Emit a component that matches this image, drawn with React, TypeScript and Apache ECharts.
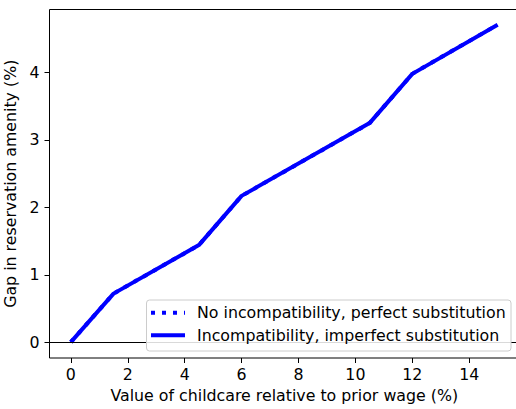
import React, { useEffect, useRef } from "react";
import * as echarts from "echarts";

const childcareValue = [0, 1.5, 4.5, 6, 10.5, 12, 15];
const gapImperfect = [0, 0.72, 1.44, 2.17, 3.25, 3.98, 4.71];
const gapPerfect = [0, 0.72, 1.44, 2.17, 3.25, 3.98, 4.71];
const xTicks = [0, 2, 4, 6, 8, 10, 12, 14];
const yTicks = [0, 1, 2, 3, 4];
const seriesNames = [
  "No incompatibility, perfect substitution",
  "Incompatibility, imperfect substitution",
];

const FONT = "DejaVu Sans";
const FS = 15.8;
const BLUE = "#0000ff";

export default function App() {
  const ref = useRef<HTMLDivElement>(null);
  useEffect(() => {
    if (!ref.current) return;
    const chart = echarts.init(ref.current, undefined, { renderer: "svg" });
    const pts = (ys: number[]) => childcareValue.map((x, i) => [x, ys[i]]);
    const legendRows = [312.7, 335.3];
    chart.setOption({
      animation: false,
      backgroundColor: "#ffffff",
      textStyle: { fontFamily: FONT },
      grid: {
        left: 49.5,
        top: 9.5,
        right: -3,
        bottom: 51,
        outerBoundsMode: "none",
        containLabel: false,
        show: true,
        borderColor: "#000",
        borderWidth: 1,
        backgroundColor: "transparent",
      },
      xAxis: {
        type: "value",
        min: -0.75,
        max: 15.75,
        name: "Value of childcare relative to prior wage (%)",
        nameLocation: "middle",
        nameGap: 29,
        nameTextStyle: { fontSize: FS, color: "#000", fontFamily: FONT },
        axisLine: { show: false, onZero: false },
        splitLine: { show: false },
        axisTick: {
          show: true,
          length: 5,
          lineStyle: { color: "#000" },
          customValues: xTicks,
        },
        axisLabel: {
          fontSize: FS,
          color: "#000",
          margin: 8,
          fontFamily: FONT,
          customValues: xTicks,
        },
      },
      yAxis: {
        type: "value",
        min: -0.235,
        max: 4.935,
        name: "Gap in reservation amenity (%)",
        nameLocation: "middle",
        nameGap: 22,
        nameRotate: 90,
        nameTextStyle: { fontSize: FS, color: "#000", fontFamily: FONT },
        axisLine: { show: false, onZero: false },
        splitLine: { show: false },
        axisTick: {
          show: true,
          length: 5,
          lineStyle: { color: "#000" },
          customValues: yTicks,
        },
        axisLabel: {
          fontSize: FS,
          color: "#000",
          margin: 10,
          fontFamily: FONT,
          customValues: yTicks,
        },
      },
      graphic: [
        {
          type: "rect",
          shape: { x: 146.5, y: 300, width: 364.5, height: 51, r: 3 },
          style: { fill: "rgba(255,255,255,0.85)", stroke: "#cccccc", lineWidth: 1 },
          z: 100,
        },
        {
          type: "line",
          shape: { x1: 151, y1: legendRows[0], x2: 185, y2: legendRows[0] },
          style: { stroke: BLUE, lineWidth: 4, lineDash: [4, 7] },
          z: 101,
        },
        {
          type: "line",
          shape: { x1: 151, y1: legendRows[1], x2: 185, y2: legendRows[1] },
          style: { stroke: BLUE, lineWidth: 4 },
          z: 101,
        },
        {
          type: "text",
          x: 197,
          y: legendRows[0],
          style: {
            text: seriesNames[0],
            fontSize: FS,
            fontFamily: FONT,
            fill: "#000",
            verticalAlign: "middle",
          },
          z: 101,
        },
        {
          type: "text",
          x: 197,
          y: legendRows[1],
          style: {
            text: seriesNames[1],
            fontSize: FS,
            fontFamily: FONT,
            fill: "#000",
            verticalAlign: "middle",
          },
          z: 101,
        },
      ],
      series: [
        {
          name: seriesNames[0],
          type: "line",
          data: pts(gapPerfect),
          symbol: "none",
          lineStyle: { color: BLUE, width: 4, type: [4, 7] },
          itemStyle: { color: BLUE },
          markLine: {
            silent: true,
            symbol: "none",
            label: { show: false },
            lineStyle: { color: "#000", width: 1, type: "solid" },
            data: [{ yAxis: 0 }],
          },
          z: 2,
        },
        {
          name: seriesNames[1],
          type: "line",
          data: pts(gapImperfect),
          symbol: "none",
          lineStyle: { color: BLUE, width: 4, type: "solid" },
          itemStyle: { color: BLUE },
          z: 3,
        },
      ],
    });
    return () => chart.dispose();
  }, []);
  return (
    <div
      ref={ref}
      style={{ position: "fixed", left: 0, top: 0, width: 516, height: 409 }}
    />
  );
}
